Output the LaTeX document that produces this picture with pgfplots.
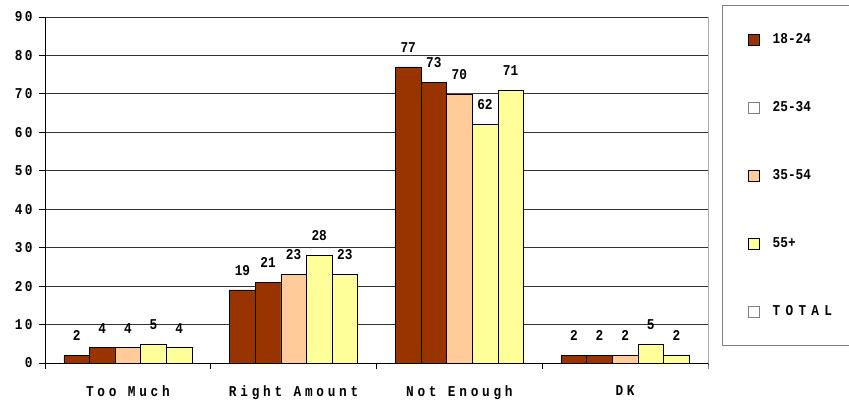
\documentclass[border=0pt]{standalone}
\usepackage{pgfplots}
\pgfplotsset{compat=1.18}
\usepackage{fontspec}
\setmainfont{Liberation Mono}[FakeStretch=0.85]

\definecolor{rust}{HTML}{993300}
\definecolor{peach}{HTML}{FFCC99}
\definecolor{lemon}{HTML}{FFFF99}

\pgfplotstableread{
cat  a   b   c   d   t
0.5  2   4   4   5   4
1.5  19  21  23  28  23
2.5  77  73  70  62  71
3.5  2   2   2   5   2
}\survey

\newcommand{\lbl}{\fontsize{15}{17}\selectfont\bfseries}

\begin{document}
\begin{tikzpicture}[font=\lbl]
\useasboundingbox (0,0) rectangle (849pt,404pt);
\begin{axis}[
    at={(45pt,41pt)}, anchor=south west,
    scale only axis, width=663pt, height=346pt,
    xmin=0, xmax=4, ymin=0, ymax=90,
    ytick={0,10,...,90},
    xtick={0.5,1.5,2.5,3.5},
    xticklabels={Too Much, Right Amount, Not Enough, DK},
    minor xtick={0,1,2,3,4},
    major x tick style={draw=none},
    minor x tick style={black, line width=0.8pt},
    y tick style={black, line width=0.8pt},
    tick align=outside,
    major tick length=6pt, minor tick length=6pt,
    axis x line*=bottom, axis y line*=left,
    axis line style={black, line width=0.9pt, -},
    ymajorgrids, grid style={black!80, line width=0.8pt},
    /pgf/number format/assume math mode=true,
    yticklabel style={font=\lbl\addfontfeatures{LetterSpace=15}, xshift=-3pt},
    xticklabel style={font=\lbl\addfontfeatures{LetterSpace=25}, yshift=-13pt},
    ybar=0pt, bar width=25.6pt,
    every axis plot/.append style={draw=black, line width=0.5pt},
    nodes near coords,
    every node near coord/.append style={font=\lbl, yshift=11pt, black},
    legend style={at={(1.0211,1.0347)}, anchor=north west, draw=gray, line width=1pt,
        inner xsep=26pt, inner ysep=26pt, row sep=52.5pt,
        font=\lbl, legend cell align=left},
    clip=false,
]
\addplot[fill=rust, bar shift=-51.2pt, forget plot] table[x=cat, y=a] {\survey};
\addplot[fill=rust, bar shift=-25.6pt, forget plot] table[x=cat, y=b] {\survey};
\addplot[fill=peach, bar shift=0pt, forget plot] table[x=cat, y=c] {\survey};
\addplot[fill=lemon, bar shift=25.6pt, forget plot] table[x=cat, y=d] {\survey};
\addplot[fill=lemon, bar shift=51.2pt, forget plot] table[x=cat, y=t] {\survey};
\draw[gray, line width=1pt] (rel axis cs:1,1) -- (rel axis cs:1,0) -- ++(0,-6pt);

\addlegendimage{legend image code/.code={\draw[fill=rust, draw=black, line width=0.5pt] (0pt,-5.5pt) rectangle (11pt,5.5pt); \path[draw=none, fill=none] (0pt,0pt) rectangle (22pt,0pt);}}
\addlegendentry{18-24}
\addlegendimage{legend image code/.code={\draw[fill=white, draw=gray, line width=0.5pt] (0pt,-5.5pt) rectangle (11pt,5.5pt); \path[draw=none, fill=none] (0pt,0pt) rectangle (22pt,0pt);}}
\addlegendentry{25-34}
\addlegendimage{legend image code/.code={\draw[fill=peach, draw=black, line width=0.5pt] (0pt,-5.5pt) rectangle (11pt,5.5pt); \path[draw=none, fill=none] (0pt,0pt) rectangle (22pt,0pt);}}
\addlegendentry{35-54}
\addlegendimage{legend image code/.code={\draw[fill=lemon, draw=black, line width=0.5pt] (0pt,-5.5pt) rectangle (11pt,5.5pt); \path[draw=none, fill=none] (0pt,0pt) rectangle (22pt,0pt);}}
\addlegendentry{55+}
\addlegendimage{legend image code/.code={\draw[fill=white, draw=gray, line width=0.5pt] (0pt,-5.5pt) rectangle (11pt,5.5pt); \path[draw=none, fill=none] (0pt,0pt) rectangle (22pt,0pt);}}
\addlegendentry{\addfontfeatures{LetterSpace=35}TOTAL\hspace*{30pt}}
\end{axis}
\end{tikzpicture}
\end{document}
